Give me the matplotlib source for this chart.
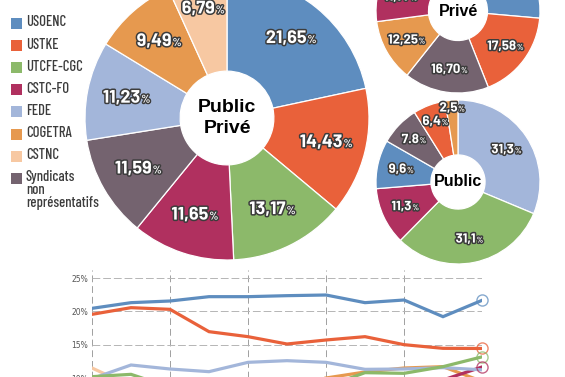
import matplotlib
matplotlib.use('Agg')
import matplotlib.pyplot as plt
import matplotlib.patheffects as pe
from matplotlib.offsetbox import TextArea, HPacker, AnnotationBbox
import numpy as np

W, H = 565, 377

# union colours
colors = {
    'USOENC': '#5e8dbf',
    'USTKE': '#e9613a',
    'UTCFE-CGC': '#8cb96a',
    'CSTC-FO': '#b0305f',
    'FEDE': '#a3b6da',
    'COGETRA': '#e6994f',
    'CSTNC': '#f7c8a2',
    'Syndicats': '#74636f',
}
legend_keys = ['USOENC', 'USTKE', 'UTCFE-CGC', 'CSTC-FO', 'FEDE', 'COGETRA', 'CSTNC', 'Syndicats']
legend_texts = ['USOENC', 'USTKE', 'UTCFE-CGC', 'CSTC-FO', 'FEDE', 'COGETRA', 'CSTNC',
                'Syndicats\nnon\nreprésentatifs']

# public + prive
total_names = ['USOENC', 'USTKE', 'UTCFE-CGC', 'CSTC-FO', 'Syndicats', 'FEDE', 'COGETRA', 'CSTNC']
total_vals = [21.65, 14.43, 13.17, 11.65, 11.59, 11.23, 9.49, 6.79]
total_labels = ['21,65', '14,43', '13,17', '11,65', '11,59', '11,23', '9,49', '6,79']

# prive (top part is outside the picture, hidden values estimated)
prive_names = ['USOENC', 'USTKE', 'Syndicats', 'COGETRA', 'CSTC-FO', 'CSTNC', 'UTCFE-CGC', 'FEDE']
prive_vals = [26.4, 17.58, 16.70, 12.25, 11.77, 7.7, 5.0, 2.6]
prive_labels = ['26,40', '17,58', '16,70', '12,25', '11,77', '7,70', '5,00', '2,60']

# public
public_names = ['FEDE', 'UTCFE-CGC', 'CSTC-FO', 'USOENC', 'Syndicats', 'USTKE', 'COGETRA']
public_vals = [31.3, 31.1, 11.3, 9.6, 7.8, 6.4, 2.5]
public_labels = ['31,3', '31,1', '11,3', '9,6', '7.8', '6,4', '2,5']

# evolution (% of votes), 11 rounds
rounds = np.arange(11)
line_usoenc = [20.45, 21.3, 21.55, 22.2, 22.2, 22.35, 22.45, 21.3, 21.7, 19.2, 21.65]
line_ustke = [19.55, 20.55, 20.3, 16.95, 16.2, 15.1, 15.7, 16.2, 15.0, 14.45, 14.43]
line_fede = [9.9, 11.95, 11.35, 10.95, 12.35, 12.6, 12.35, 11.3, 11.35, 11.55, 11.23]
line_utcfe = [10.2, 10.55, 8.6, 8.4, 8.5, 8.6, 8.7, 10.8, 10.7, 11.7, 13.17]
line_cogetra = [8.0, 8.2, 8.4, 8.6, 8.8, 9.2, 10.0, 10.9, 11.5, 11.7, 9.49]
line_cstnc = [11.5, 8.8, 8.0, 7.8, 7.6, 7.5, 7.4, 7.3, 7.2, 7.0, 6.79]
line_cstcfo = [8.5, 8.4, 8.6, 8.8, 8.7, 8.9, 9.0, 9.1, 9.3, 9.7, 11.65]

NUM_FONT = ['Barlow', 'Barlow Semi Condensed', 'Liberation Sans Narrow', 'DejaVu Sans']
LEG_FONT = ['Barlow Condensed', 'Liberation Sans Narrow', 'DejaVu Sans']
shadow = [pe.withStroke(linewidth=2.2, foreground='#3c3c3c')]

fig = plt.figure(figsize=(W / 100, H / 100), dpi=100)
fig.patch.set_facecolor('white')


def px_axes(cx, cy, r):
    return fig.add_axes([(cx - r) / W, (H - cy - r) / H, 2 * r / W, 2 * r / H])


def pct_label(ax, x, y, num, size):
    t1 = TextArea(num, textprops=dict(color='white', fontsize=size, fontweight='bold',
                                      family=NUM_FONT, path_effects=shadow))
    t2 = TextArea('%', textprops=dict(color='white', fontsize=size * 0.62, fontweight='semibold',
                                      family=NUM_FONT, path_effects=shadow))
    box = HPacker(children=[t1, t2], align='baseline', pad=0, sep=0.5)
    ab = AnnotationBbox(box, (x, y), xycoords='data', frameon=False,
                        box_alignment=(0.5, 0.5), pad=0, annotation_clip=False)
    ax.add_artist(ab)


def draw_pie(cx, cy, r, names, vals, labels, hole, center_text, csize, lsize, lrad):
    ax = px_axes(cx, cy, r)
    wedges, _ = ax.pie(vals, colors=[colors[n] for n in names], startangle=90,
                       counterclock=False, radius=1,
                       wedgeprops=dict(width=1 - hole, edgecolor='white', linewidth=0.9))
    ax.set_xlim(-1, 1)
    ax.set_ylim(-1, 1)
    for w, v, lab in zip(wedges, vals, labels):
        ang = np.deg2rad((w.theta1 + w.theta2) / 2)
        rr = lrad + max(0, 9 - v) * 0.03
        pct_label(ax, rr * np.cos(ang), rr * np.sin(ang), lab, lsize)
    ax.text(0, 0, center_text, ha='center', va='center', fontsize=csize,
            fontweight='bold', family='Liberation Sans', linespacing=1.3, color='black')
    return ax


draw_pie(227, 118, 142, total_names, total_vals, total_labels, 0.33, 'Public\nPrivé', 14, 13, 0.72)
draw_pie(458, 11, 82, prive_names, prive_vals, prive_labels, 0.36, 'Privé', 11.5, 9.5, 0.72)
draw_pie(458, 182, 82, public_names, public_vals, public_labels, 0.33, 'Public', 11.5, 9.5, 0.71)

# legend
ax_leg = fig.add_axes([0, 0, 1, 1], zorder=-1)
ax_leg.set_xlim(0, W)
ax_leg.set_ylim(H, 0)
ax_leg.axis('off')
for i, (k, t) in enumerate(zip(legend_keys, legend_texts)):
    y = 23 + 22.1 * i
    ax_leg.scatter([15.5], [y], marker='s', s=(11 * 0.72) ** 2, color=colors[k], linewidths=0)
    ax_leg.text(26, y - 7.5, t, ha='left', va='top', fontsize=10.5, fontweight='medium',
                color='#3c3c3c', family=LEG_FONT, linespacing=0.9)

# line chart
top_px, bot_px = 270, 278 + 25 * 100 / 15
ax = fig.add_axes([92 / W, (H - bot_px) / H, 390 / W, (bot_px - top_px) / H])
ax.set_xlim(0, 10)
ax.set_ylim(0, 25 + (278 - top_px) * 15 / 100)
series = [(line_cstnc, 'CSTNC'), (line_cogetra, 'COGETRA'), (line_cstcfo, 'CSTC-FO'),
          (line_fede, 'FEDE'), (line_utcfe, 'UTCFE-CGC'), (line_ustke, 'USTKE'),
          (line_usoenc, 'USOENC')]
for vals, k in series:
    ax.plot(rounds, vals, color=colors[k], lw=2.3, solid_joinstyle='miter', zorder=3)
for vals, k in [(line_usoenc, 'USOENC'), (line_ustke, 'USTKE'), (line_utcfe, 'UTCFE-CGC'),
                (line_cstcfo, 'CSTC-FO')]:
    ax.plot(rounds[-1:], vals[-1:], 'o', ms=8, mfc='none', mec=colors[k], mew=1.0,
            alpha=0.75, clip_on=False, zorder=4)
ax.set_yticks([5, 10, 15, 20, 25])
ax.set_yticklabels(['5%', '10%', '15%', '20%', '25%'], fontsize=5.5, color='#555555')
ax.set_xticks(range(0, 11, 2))
ax.set_xticklabels([])
ax.tick_params(length=0, pad=3)
ax.grid(axis='y', color='#b5b5b5', lw=0.7, ls=(0, (8, 3)))
ax.grid(axis='x', color='#a0a0a0', lw=0.7, ls=(0, (7, 4)))
for s in ax.spines.values():
    s.set_visible(False)

fig.savefig('out.png', dpi=100)
